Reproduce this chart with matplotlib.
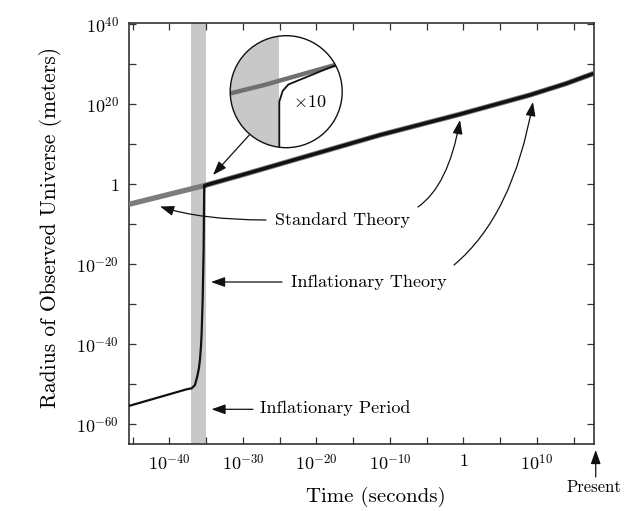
import matplotlib.pyplot as plt
from matplotlib.patches import Circle
import numpy as np

plt.rcParams['font.family'] = 'cmr10'
plt.rcParams['mathtext.fontset'] = 'cm'
plt.rcParams['axes.unicode_minus'] = False

# log10 values
std_logt = [-45.5, -35.2, -30.0, -11.4, -0.5, 9.0, 14.0, 17.7]
std_logr = [-5.0, -0.3, 2.4, 12.3, 17.5, 22.3, 25.2, 27.7]

infl_logt = [-45.5, -37.66, -36.98, -36.53, -36.22, -35.99, -35.85, -35.71,
             -35.62, -35.48, -35.35, -35.27]
infl_logr = [-55.4, -51.25, -51.0, -50.2, -48.1, -46.0, -43.9, -40.6,
             -37.25, -28.9, -16.4, -0.9]

# magnified (x10) detail of the end of inflation
inset_logt = [-35.0, -35.0, -34.954, -34.877, -34.718, -34.491, -34.265, -34.0]
inset_logr = [-2.0, -0.72, -0.45, -0.29, -0.17, 0.0, 0.17, 0.32]

period_logt = [-37.0, -35.0]

x_major = [-40, -30, -20, -10, 0, 10]
x_minor = [-45, -35, -25, -15, -5, 5, 15]
y_major = [-60, -40, -20, 0, 20, 40]
y_minor = [-50, -30, -10, 10, 30]

W, H = 625, 511


def fp(x, y):
    # pixel position -> figure fraction
    return (x / W, 1 - y / H)


def lbl(e):
    return '$1$' if e == 0 else '$10^{%d}$' % e


std_t = 10.0 ** np.array(std_logt)
std_r = 10.0 ** np.array(std_logr)
# inflationary curve joins the standard one after inflation
tail = np.array(std_logt) > infl_logt[-1]
infl_t = 10.0 ** np.array(infl_logt)
infl_r = 10.0 ** np.array(infl_logr)
join_t = np.concatenate([infl_t[-1:], std_t[tail]])
join_r = np.concatenate([infl_r[-1:], std_r[tail]])

fig = plt.figure(figsize=(W / 100, H / 100), dpi=100)
ax = fig.add_axes([129 / W, 1 - 443.5 / H, 465 / W, 420.8 / H])

ax.axvspan(10.0 ** period_logt[0], 10.0 ** period_logt[1], color='#c8c8c8', lw=0, zorder=1)
ax.plot(std_t, std_r, color='#7c7c7c', lw=3.8, solid_capstyle='butt', zorder=3)
ax.plot(infl_t, infl_r, color='#111111', lw=1.6, zorder=4)
ax.plot(join_t, join_r, color='#111111', lw=2.5, solid_capstyle='butt', zorder=4)

ax.set_xscale('log')
ax.set_yscale('log')
ax.set_xlim(10 ** -45.5, 10 ** 17.76)
ax.set_ylim(10 ** -64.8, 10 ** 40.4)

ax.set_xticks([10.0 ** e for e in x_major])
ax.set_xticklabels([lbl(e) for e in x_major])
ax.set_xticks([10.0 ** e for e in x_minor], minor=True)
ax.set_yticks([10.0 ** e for e in y_major])
ax.set_yticklabels([lbl(e) for e in y_major])
ax.set_yticks([10.0 ** e for e in y_minor], minor=True)
ax.xaxis.set_minor_formatter(plt.NullFormatter())
ax.yaxis.set_minor_formatter(plt.NullFormatter())

ax.tick_params(which='both', direction='in', length=5, width=0.9, color='#333333',
               top=True, right=True, labelsize=13)
ax.tick_params(axis='x', which='major', pad=7)
ax.tick_params(axis='y', which='major', pad=7)
for s in ax.spines.values():
    s.set_linewidth(1.2)
    s.set_color('#333333')

ax.set_xlabel('Time (seconds)', fontsize=15)
ax.xaxis.set_label_coords((376 - 129) / 465, (443.5 - 496.7) / 420.8)
ax.xaxis.label.set_va('center')
ax.set_ylabel('Radius of Observed Universe (meters)', fontsize=15.5)
ax.yaxis.set_label_coords((51 - 129) / 465, (443.5 - 227.5) / 420.8)
ax.yaxis.label.set_va('center')

# annotations
arrow = dict(arrowstyle='-|>,head_length=0.7,head_width=0.25', color='#111111',
             lw=0.9, shrinkA=0, shrinkB=0, mutation_scale=12)

fig.text(*fp(275, 225), 'Standard Theory', fontsize=13, va='baseline')
fig.text(*fp(291, 286.5), 'Inflationary Theory', fontsize=13, va='baseline')
fig.text(*fp(260, 413), 'Inflationary Period', fontsize=13, va='baseline')
fig.text(*fp(566, 491.5), 'Present', fontsize=12, va='baseline')

ax.annotate('', xy=fp(160, 206.5), xytext=fp(266, 220), xycoords='figure fraction',
            arrowprops=dict(arrow, connectionstyle='angle3,angleA=0,angleB=-18'))
ax.annotate('', xy=fp(460, 120), xytext=fp(418, 207), xycoords='figure fraction',
            arrowprops=dict(arrow, connectionstyle='angle3,angleA=35,angleB=80'))
ax.annotate('', xy=fp(533, 102), xytext=fp(454, 265), xycoords='figure fraction',
            arrowprops=dict(arrow, connectionstyle='angle3,angleA=40,angleB=80'))
ax.annotate('', xy=fp(211, 282), xytext=fp(282, 282), xycoords='figure fraction',
            arrowprops=arrow)
ax.annotate('', xy=fp(211.5, 409.3), xytext=fp(253, 409.3), xycoords='figure fraction',
            arrowprops=arrow)
ax.annotate('', xy=fp(213, 175), xytext=fp(249.3, 135), xycoords='figure fraction',
            arrowprops=arrow)
ax.annotate('', xy=fp(595.7, 450), xytext=fp(595.7, 477), xycoords='figure fraction',
            arrowprops=arrow, annotation_clip=False)

# x10 magnifier
cx, cy, rad = 286.2, 91.7, 56
ins = fig.add_axes([(cx - rad) / W, 1 - (cy + rad) / H, 2 * rad / W, 2 * rad / H])
ins.set_axis_off()
ins.set_xscale('log')
ins.set_yscale('log')
tc, rc = -34.906, -0.47
ins.set_xlim(10 ** (tc - rad / 73.5), 10 ** (tc + rad / 73.5))
ins.set_ylim(10 ** (rc - rad / 40), 10 ** (rc + rad / 40))
disk = Circle((0.5, 0.5), 0.5, transform=ins.transAxes, fc='white', ec='none', zorder=0)
ins.add_patch(disk)
band = ins.axvspan(10.0 ** period_logt[0], 10.0 ** period_logt[1], color='#c8c8c8', lw=0, zorder=1)
l1, = ins.plot(std_t, std_r, color='#707070', lw=3.2, zorder=3)
l2, = ins.plot(10.0 ** np.array(inset_logt), 10.0 ** np.array(inset_logr),
               color='#111111', lw=1.3, zorder=4)
for a in (band, l1, l2):
    a.set_clip_path(disk)
ins.add_patch(Circle((0.5, 0.5), 0.5, transform=ins.transAxes, fc='none',
                     ec='#111111', lw=1.0, zorder=10, clip_on=False))
ins.text(0.56, 0.36, r'$\times$10', transform=ins.transAxes, fontsize=13, va='baseline')

fig.savefig('out.png', dpi=100)
